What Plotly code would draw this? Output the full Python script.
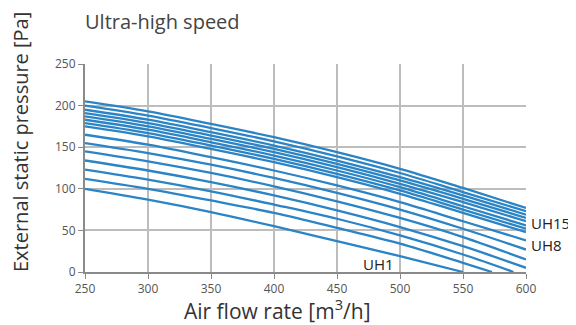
#!python3
# fan curves, ultra-high speed taps UH1..UH15
import plotly.graph_objects as go

flow = [250, 300, 350, 400, 450, 500, 550, 600]

# external static pressure [Pa], None = below 0
uh = {
    "UH15": [205, 193, 178, 162, 144, 124, 101, 77],
    "UH14": [200, 188, 173, 157, 139, 119, 96, 73],
    "UH13": [195, 183, 168, 152, 134, 114, 92, 69],
    "UH12": [191, 179, 164, 148, 130, 110, 88, 65],
    "UH11": [187, 175, 160, 144, 126, 106, 84, 61],
    "UH10": [183, 171, 156, 140, 122, 102, 79, 56],
    "UH9": [179, 167, 152, 136, 118, 98, 75, 52],
    "UH8": [175, 163, 148, 132, 114, 94, 71, 48],
    "UH7": [165, 153, 138, 122, 104, 84, 61, 38],
    "UH6": [155, 143, 129, 113, 95, 75, 52, 27],
    "UH5": [145, 133, 119, 103, 85, 65, 42, 15],
    "UH4": [134, 122, 108, 92, 74, 54, 31, 5],
    "UH3": [123, 111, 97, 81, 64, 44, 21, None],
    "UH2": [112, 100, 86, 71, 53, 34, 11, None],
    "UH1": [100, 87, 72, 55, 37, 19, 0, None],
}
# flow where a curve meets 0 Pa
zero_at = {"UH3": 590, "UH2": 573}

blue = "#2a84c6"
font = "Open Sans"

fig = go.Figure()
for name, p in uh.items():
    xs = [f for f, v in zip(flow, p) if v is not None]
    ys = [v for v in p if v is not None]
    if name in zero_at:
        xs.append(zero_at[name])
        ys.append(0)
    fig.add_trace(go.Scatter(x=xs, y=ys, mode="lines", name=name,
                             line=dict(color=blue, width=2.3, shape="spline")))

# curve labels
lab = dict(size=15, color="#222")
fig.add_annotation(x=600, y=59, text="UH15", showarrow=False, xanchor="left", xshift=3, font=lab)
fig.add_annotation(x=600, y=32, text="UH8", showarrow=False, xanchor="left", xshift=3, font=lab)
fig.add_annotation(x=483, y=10, text="UH1", showarrow=False, font=lab)

# title and axis titles (placed by hand, page body adds 8px offset)
fig.add_annotation(x=0, xref="paper", y=1.205, yref="paper", text="Ultra-high speed",
                   showarrow=False, xanchor="left", yanchor="middle", xshift=-2,
                   font=dict(size=20, color="#444"))
fig.add_annotation(x=0, xref="paper", y=0.625, yref="paper", xshift=-65,
                   xanchor="center", yanchor="middle",
                   text="External static pressure [Pa]", textangle=-90, showarrow=False,
                   font=dict(size=20, color="#333"))
fig.add_annotation(x=0.4376, xref="paper", y=-0.178, yref="paper",
                   xanchor="center", yanchor="middle",
                   text="Air flow rate [m<sup>3</sup>/h]", showarrow=False,
                   font=dict(size=21, color="#333"))

fig.update_layout(
    width=568, height=317,
    margin=dict(l=77, r=50, t=56, b=53),
    plot_bgcolor="white", paper_bgcolor="white",
    showlegend=False,
    font=dict(family=font, color="#555", size=12),
)
fig.update_xaxes(range=[250, 600], tickvals=list(range(250, 601, 50)),
                 showgrid=True, gridcolor="#bdbdbd", gridwidth=1.5,
                 showline=True, linecolor="#8a8a8a", linewidth=2,
                 ticks="outside", ticklen=5, tickcolor="#8a8a8a")
fig.update_yaxes(range=[0, 250], tickvals=list(range(0, 251, 50)),
                 showgrid=True, gridcolor="#bdbdbd", gridwidth=1.5,
                 showline=True, linecolor="#8a8a8a", linewidth=2,
                 ticks="outside", ticklen=5, tickcolor="#8a8a8a", zeroline=False)

fig.write_html("out.html")
